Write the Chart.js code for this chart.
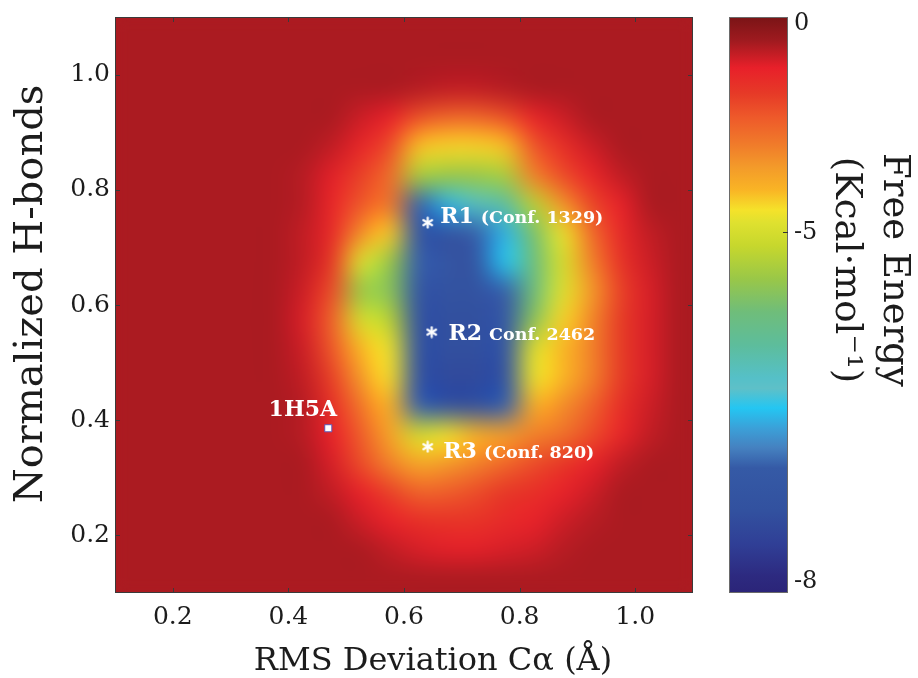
<!DOCTYPE html>
<html>
<head>
<meta charset="utf-8">
<title>Free energy landscape</title>
<script src="https://cdn.jsdelivr.net/npm/chart.js@4.4.1/dist/chart.umd.min.js"></script>
<style>
  body { margin: 0; background: #fff; }
  #wrap { width: 918px; height: 678px; }
</style>
</head>
<body>
<div id="wrap"><canvas id="energyChart" width="918" height="678"></canvas></div>
<script>
// Grid cell centres (RMSD in x, normalized H-bonds in y, top row first)
const xCenters = [0.125, 0.175, 0.225, 0.275, 0.325, 0.375, 0.425, 0.475, 0.525, 0.575,
                  0.625, 0.675, 0.725, 0.775, 0.825, 0.875, 0.925, 0.975, 1.025, 1.075];
const yCenters = [1.075, 1.025, 0.975, 0.925, 0.875, 0.825, 0.775, 0.725, 0.675, 0.625,
                  0.575, 0.525, 0.475, 0.425, 0.375, 0.325, 0.275, 0.225, 0.175, 0.125];

// Free energy (kcal/mol), one row per yCenters entry
const freeEnergy = [
  [-0.5,-0.5,-0.5,-0.5,-0.5,-0.5,-0.5,-0.5,-0.5,-0.5,-0.5,-0.5,-0.5,-0.5,-0.5,-0.5,-0.5,-0.5,-0.5,-0.5],
  [-0.5,-0.5,-0.5,-0.5,-0.5,-0.5,-0.5,-0.5,-0.5,-0.5,-0.5,-0.5,-0.5,-0.5,-0.5,-0.5,-0.5,-0.5,-0.5,-0.5],
  [-0.5,-0.5,-0.5,-0.5,-0.5,-0.5,-0.5,-0.5,-0.5,-0.5,-0.6,-0.7,-0.7,-0.6,-0.5,-0.5,-0.5,-0.5,-0.5,-0.5],
  [-0.5,-0.5,-0.5,-0.5,-0.5,-0.5,-0.5,-0.5,-0.8,-1.1,-2.1,-2.5,-2.5,-2.1,-1.2,-0.8,-0.5,-0.5,-0.5,-0.5],
  [-0.5,-0.5,-0.5,-0.5,-0.5,-0.5,-0.5,-0.7,-1.2,-2.0,-4.1,-4.3,-4.3,-4.1,-2.2,-1.4,-0.8,-0.5,-0.5,-0.5],
  [-0.5,-0.5,-0.5,-0.5,-0.5,-0.5,-0.6,-1.0,-1.8,-2.6,-5.3,-5.4,-5.4,-5.3,-3.0,-2.0,-1.2,-0.7,-0.5,-0.5],
  [-0.5,-0.5,-0.5,-0.5,-0.5,-0.5,-0.6,-1.2,-2.2,-2.8,-7.0,-6.6,-6.2,-6.0,-5.2,-3.3,-1.9,-1.1,-0.5,-0.5],
  [-0.5,-0.5,-0.5,-0.5,-0.5,-0.5,-0.7,-1.3,-3.2,-4.2,-7.2,-7.3,-7.0,-6.6,-5.6,-4.6,-2.6,-1.3,-0.7,-0.5],
  [-0.5,-0.5,-0.5,-0.5,-0.5,-0.5,-0.7,-1.6,-4.8,-5.4,-7.0,-7.2,-7.2,-6.5,-5.7,-5.0,-3.0,-1.5,-0.8,-0.5],
  [-0.5,-0.5,-0.5,-0.5,-0.5,-0.5,-0.8,-2.0,-5.4,-5.5,-7.2,-7.3,-7.3,-7.0,-5.7,-4.8,-3.4,-1.8,-0.9,-0.5],
  [-0.5,-0.5,-0.5,-0.5,-0.5,-0.5,-0.9,-2.4,-5.0,-5.2,-7.3,-7.4,-7.4,-7.1,-5.5,-4.3,-3.1,-1.7,-0.9,-0.5],
  [-0.5,-0.5,-0.5,-0.5,-0.5,-0.5,-0.8,-2.2,-4.0,-4.6,-7.3,-7.4,-7.4,-7.2,-4.8,-4.0,-3.0,-1.7,-0.9,-0.5],
  [-0.5,-0.5,-0.5,-0.5,-0.5,-0.5,-0.7,-1.8,-3.4,-4.4,-7.3,-7.5,-7.5,-7.3,-4.6,-4.0,-3.0,-1.7,-0.9,-0.5],
  [-0.5,-0.5,-0.5,-0.5,-0.5,-0.5,-0.6,-1.4,-2.8,-3.9,-7.0,-7.4,-7.4,-7.0,-3.8,-3.2,-2.4,-1.4,-0.8,-0.5],
  [-0.5,-0.5,-0.5,-0.5,-0.5,-0.5,-0.6,-1.1,-2.3,-3.6,-5.0,-4.5,-3.9,-3.5,-3.0,-2.7,-2.0,-1.2,-0.7,-0.5],
  [-0.5,-0.5,-0.5,-0.5,-0.5,-0.5,-0.5,-0.9,-2.0,-3.0,-3.7,-3.4,-3.0,-2.5,-2.0,-1.6,-1.1,-0.7,-0.5,-0.5],
  [-0.5,-0.5,-0.5,-0.5,-0.5,-0.5,-0.5,-0.7,-1.1,-1.8,-2.4,-2.3,-2.0,-1.6,-1.4,-1.1,-0.8,-0.5,-0.5,-0.5],
  [-0.5,-0.5,-0.5,-0.5,-0.5,-0.5,-0.5,-0.5,-0.8,-1.1,-1.4,-1.5,-1.5,-1.3,-1.1,-0.8,-0.6,-0.5,-0.5,-0.5],
  [-0.5,-0.5,-0.5,-0.5,-0.5,-0.5,-0.5,-0.5,-0.5,-0.7,-0.9,-1.0,-1.0,-0.9,-0.8,-0.6,-0.5,-0.5,-0.5,-0.5],
  [-0.5,-0.5,-0.5,-0.5,-0.5,-0.5,-0.5,-0.5,-0.5,-0.5,-0.5,-0.5,-0.5,-0.5,-0.5,-0.5,-0.5,-0.5,-0.5,-0.5]
];
const backgroundEnergy = -0.5;

// Representative conformations (asterisks) and the crystal structure (square)
const confNames = ['R1', 'R2', 'R3'];
const confLabels = ['(Conf. 1329)', 'Conf. 2462', '(Conf. 820)'];
const confX = [0.641, 0.648, 0.641];
const confY = [0.743, 0.553, 0.354];
const confTextX = [0.6625, 0.677, 0.668];
const confTextY = [0.743, 0.539, 0.335];

const crystalName = '1H5A';
const crystalX = [0.469];
const crystalY = [0.386];
const crystalTextX = 0.425;
const crystalTextY = 0.408;

// Axis ticks and titles
const xTicks = [0.2, 0.4, 0.6, 0.8, 1.0];
const yTicks = [0.2, 0.4, 0.6, 0.8, 1.0];
const cbTicks = [0, -5, -8];
const cbTickLabels = ['0', '-5', '-8'];
const xTitle = 'RMS Deviation C\u03b1 (\u00c5)';
const yTitle = 'Normalized H-bonds';
const cbTitle = ['Free Energy', '(Kcal\u00b7mol\u207b\u00b9)'];

// Colour bar: where the energy ticks sit along the bar (0 = top, 1 = bottom)
const energyStops = [0, -5, -8];
const barStops = [0.012, 0.374, 0.98];

// jet-like colormap sampled from the colour bar
const cmapPos = [0, 0.04, 0.088, 0.133, 0.175, 0.22, 0.26, 0.30, 0.335, 0.357, 0.398, 0.455,
                 0.512, 0.57, 0.627, 0.645, 0.679, 0.714, 0.748, 0.783, 0.857, 0.915, 0.97, 1];
const cmapColors = ['#7a1416', '#9e1a1f', '#e8202a', '#e63a27', '#ee5a2a', '#f07a2a', '#f39a2a',
                    '#f9b425', '#f5e22a', '#dfe12f', '#c6d72d', '#99c748', '#6fbd7a', '#5dbd9c',
                    '#55c0c8', '#5ec0c8', '#24c6f2', '#3ba0d8', '#4581c0', '#355aa6', '#32519f',
                    '#303f96', '#2d2a80', '#2b2478'];

const FONT = "'DejaVu Serif', serif";
const INK = '#1c1c1c';

function hexToRgb(h) {
  return [parseInt(h.slice(1, 3), 16), parseInt(h.slice(3, 5), 16), parseInt(h.slice(5, 7), 16)];
}
const cmapRgb = cmapColors.map(hexToRgb);

function energyToPos(e) {
  if (e >= energyStops[0]) return barStops[0];
  for (let k = 1; k < energyStops.length; k++) {
    if (e >= energyStops[k]) {
      const f = (e - energyStops[k - 1]) / (energyStops[k] - energyStops[k - 1]);
      return barStops[k - 1] + f * (barStops[k] - barStops[k - 1]);
    }
  }
  return barStops[barStops.length - 1];
}

function posToRgb(t) {
  t = Math.max(0, Math.min(1, t));
  for (let k = 1; k < cmapPos.length; k++) {
    if (t <= cmapPos[k]) {
      const f = (t - cmapPos[k - 1]) / (cmapPos[k] - cmapPos[k - 1]);
      const a = cmapRgb[k - 1], b = cmapRgb[k];
      return [0, 1, 2].map(i => Math.round(a[i] + f * (b[i] - a[i])));
    }
  }
  return cmapRgb[cmapRgb.length - 1];
}

function energyColor(e) {
  const c = posToRgb(energyToPos(e));
  return 'rgb(' + c.join(',') + ')';
}

// Small six-spoke asterisk used as point style
function makeAsterisk(size) {
  const c = document.createElement('canvas');
  c.width = c.height = size;
  const g = c.getContext('2d');
  g.strokeStyle = '#ffffff';
  g.lineWidth = 2.2;
  g.lineCap = 'round';
  const r = size / 2 - 1.5;
  for (let k = 0; k < 3; k++) {
    const a = Math.PI / 2 + k * Math.PI / 3;
    g.beginPath();
    g.moveTo(size / 2 + r * Math.cos(a), size / 2 + r * Math.sin(a));
    g.lineTo(size / 2 - r * Math.cos(a), size / 2 - r * Math.sin(a));
    g.stroke();
  }
  return c;
}

// Keep the axes from asking for extra room around the plot
function fixBox(width, height) {
  return axis => {
    if (width) axis.width = width;
    if (height) axis.height = height;
    axis.paddingTop = 0;
    axis.paddingBottom = 0;
    axis.paddingLeft = 0;
    axis.paddingRight = 0;
  };
}

function drawRotated(ctx, text, cx, cy, angle) {
  ctx.save();
  ctx.translate(cx, cy);
  ctx.rotate(angle);
  ctx.fillText(text, 0, 0);
  ctx.restore();
}

// Heat map painted under the datasets, smoothed like the original figure
const heatmapPlugin = {
  id: 'heatmap',
  beforeDatasetsDraw(chart) {
    const {ctx, chartArea: area, scales: {x, y}} = chart;
    const nx = xCenters.length, ny = yCenters.length;
    const off = document.createElement('canvas');
    off.width = nx;
    off.height = ny;
    const octx = off.getContext('2d');
    const img = octx.createImageData(nx, ny);
    freeEnergy.forEach((row, j) => {
      row.forEach((e, i) => {
        const c = posToRgb(energyToPos(e));
        const p = (j * nx + i) * 4;
        img.data[p] = c[0]; img.data[p + 1] = c[1]; img.data[p + 2] = c[2]; img.data[p + 3] = 255;
      });
    });
    octx.putImageData(img, 0, 0);

    const halfX = (xCenters[1] - xCenters[0]) / 2;
    const halfY = (yCenters[0] - yCenters[1]) / 2;
    const left = x.getPixelForValue(xCenters[0] - halfX);
    const right = x.getPixelForValue(xCenters[nx - 1] + halfX);
    const top = y.getPixelForValue(yCenters[0] + halfY);
    const bottom = y.getPixelForValue(yCenters[ny - 1] - halfY);

    ctx.save();
    ctx.beginPath();
    ctx.rect(area.left, area.top, area.width, area.height);
    ctx.clip();
    ctx.fillStyle = energyColor(backgroundEnergy);
    ctx.fillRect(area.left, area.top, area.width, area.height);
    ctx.imageSmoothingEnabled = true;
    ctx.imageSmoothingQuality = 'high';
    ctx.filter = 'blur(7px)';
    ctx.drawImage(off, left, top, right - left, bottom - top);
    ctx.restore();
  },
  afterDatasetsDraw(chart) {
    const {ctx, chartArea: area, scales: {x, y}} = chart;
    ctx.save();
    // frame and inward ticks on all four sides
    ctx.strokeStyle = '#3a3a3a';
    ctx.lineWidth = 1;
    ctx.strokeRect(area.left + 0.5, area.top + 0.5, area.width - 1, area.height - 1);
    ctx.beginPath();
    xTicks.forEach(v => {
      const px = Math.round(x.getPixelForValue(v)) + 0.5;
      ctx.moveTo(px, area.bottom); ctx.lineTo(px, area.bottom - 5);
      ctx.moveTo(px, area.top); ctx.lineTo(px, area.top + 5);
    });
    yTicks.forEach(v => {
      const py = Math.round(y.getPixelForValue(v)) + 0.5;
      ctx.moveTo(area.left, py); ctx.lineTo(area.left + 5, py);
      ctx.moveTo(area.right, py); ctx.lineTo(area.right - 5, py);
    });
    ctx.stroke();

    // labels of the marked conformations
    ctx.fillStyle = '#ffffff';
    ctx.textBaseline = 'alphabetic';
    confNames.forEach((name, k) => {
      const px = x.getPixelForValue(confTextX[k]);
      const py = y.getPixelForValue(confTextY[k]);
      ctx.font = 'bold 22px ' + FONT;
      ctx.textAlign = 'left';
      ctx.fillText(name, px, py);
      const w = ctx.measureText(name).width;
      ctx.font = 'bold 17.5px ' + FONT;
      ctx.fillText(confLabels[k], px + w + 7, py);
    });
    ctx.font = 'bold 22px ' + FONT;
    ctx.textAlign = 'center';
    ctx.fillText(crystalName, x.getPixelForValue(crystalTextX), y.getPixelForValue(crystalTextY));
    ctx.restore();
  },
  afterDraw(chart) {
    const {ctx, chartArea: area, scales: {cb}} = chart;
    const barLeft = cb.left + 36, barRight = cb.left + 95;
    const top = cb.getPixelForValue(0), bottom = cb.getPixelForValue(1);
    ctx.save();
    const grad = ctx.createLinearGradient(0, top, 0, bottom);
    cmapPos.forEach((p, k) => grad.addColorStop(p, cmapColors[k]));
    ctx.fillStyle = grad;
    ctx.fillRect(barLeft, top, barRight - barLeft, bottom - top);
    ctx.strokeStyle = '#6a6a6a';
    ctx.lineWidth = 1;
    ctx.strokeRect(barLeft + 0.5, top + 0.5, barRight - barLeft - 1, bottom - top - 1);
    // inner tick mark for the middle label
    ctx.strokeStyle = '#333';
    ctx.beginPath();
    cbTicks.slice(1, -1).forEach(e => {
      const py = Math.round(cb.getPixelForValue(energyToPos(e))) + 0.5;
      ctx.moveTo(barRight, py); ctx.lineTo(barRight - 5, py);
    });
    ctx.stroke();

    // axis titles
    ctx.fillStyle = INK;
    ctx.textAlign = 'center';
    ctx.textBaseline = 'middle';
    ctx.font = '32px ' + FONT;
    drawRotated(ctx, xTitle, area.left + 318, area.bottom + 69, 0);
    ctx.font = '40px ' + FONT;
    drawRotated(ctx, yTitle, 32, area.top + 277, -Math.PI / 2);

    // colour bar title, rotated clockwise
    ctx.font = '37px ' + FONT;
    drawRotated(ctx, cbTitle[0], cb.left + 201, area.top + 253, Math.PI / 2);
    drawRotated(ctx, cbTitle[1], cb.left + 153, area.top + 253, Math.PI / 2);
    ctx.restore();
  }
};

function createChart() {
  const ctx = document.getElementById('energyChart').getContext('2d');
  return new Chart(ctx, {
    type: 'scatter',
    data: {
      datasets: [{
        label: 'Representative conformations',
        data: confX.map((v, k) => ({x: v, y: confY[k]})),
        pointStyle: makeAsterisk(13),
        pointRadius: 6
      }, {
        label: crystalName,
        data: crystalX.map((v, k) => ({x: v, y: crystalY[k]})),
        pointStyle: 'rect',
        pointRadius: 5,
        backgroundColor: '#ffffff',
        borderColor: '#5b57b8',
        borderWidth: 1
      }]
    },
    options: {
      responsive: false,
      devicePixelRatio: 1,
      animation: false,
      events: [],
      layout: { padding: { top: 17, left: 0, right: 0, bottom: 0 } },
      plugins: { legend: { display: false }, tooltip: { enabled: false } },
      scales: {
        x: {
          type: 'linear',
          min: 0.1,
          max: 1.1,
          afterBuildTicks: axis => { axis.ticks = xTicks.map(v => ({value: v})); },
          afterFit: fixBox(0, 85),
          grid: { display: false, drawTicks: false },
          border: { display: false },
          ticks: {
            padding: 9,
            color: INK,
            font: { family: FONT, size: 25 },
            callback: v => v.toFixed(1)
          }
        },
        y: {
          type: 'linear',
          min: 0.1,
          max: 1.1,
          afterBuildTicks: axis => { axis.ticks = yTicks.map(v => ({value: v})); },
          afterFit: fixBox(115, 0),
          grid: { display: false, drawTicks: false },
          border: { display: false },
          ticks: {
            padding: 5,
            color: INK,
            font: { family: FONT, size: 25 },
            callback: v => v.toFixed(1)
          }
        },
        cb: {
          type: 'linear',
          position: 'right',
          min: 0,
          max: 1,
          reverse: true,
          afterBuildTicks: axis => { axis.ticks = cbTicks.map(e => ({value: energyToPos(e)})); },
          afterFit: fixBox(225, 0),
          grid: { display: false, drawTicks: false },
          border: { display: false },
          ticks: {
            padding: 101,
            autoSkip: false,
            color: INK,
            font: { family: FONT, size: 24 },
            callback: (v, i) => cbTickLabels[i]
          }
        }
      }
    },
    plugins: [heatmapPlugin]
  });
}

createChart();
</script>
</body>
</html>
